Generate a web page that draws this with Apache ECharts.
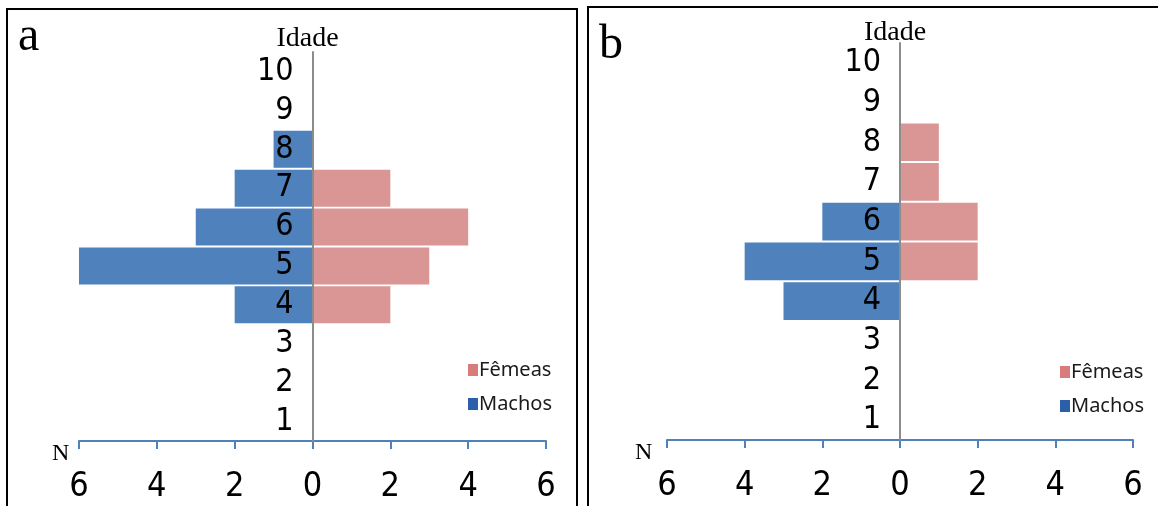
<!DOCTYPE html>
<html>
<head>
<meta charset="utf-8">
<script src="https://cdn.jsdelivr.net/npm/echarts@6/dist/echarts.min.js"></script>
<style>
html,body{margin:0;padding:0;background:#fff;}
#c{width:1158px;height:506px;}
</style>
</head>
<body>
<div id="c"></div>
<script>
// Age classes (bottom to top)
var ages = ['1','2','3','4','5','6','7','8','9','10'];
// Panel a
var machosA = [0,0,0,2,6,3,2,1,0,0];
var femeasA = [0,0,0,2,3,4,2,0,0,0];
// Panel b
var machosB = [0,0,0,3,4,2,0,0,0,0];
var femeasB = [0,0,0,0,2,2,1,1,0,0];
// X axis ticks
var xTicks = {min:-6, max:6, interval:2};

var COL_F = '#d99694', COL_M = '#4f81bd';
var LEG_F = '#d97b7b', LEG_M = '#2c5faa';
var NUMFONT = "'Liberation Sans Narrow','DejaVu Sans Condensed',sans-serif";
var SERIF = "'Liberation Serif','DejaVu Serif',serif";

var W = 1158;
var grids = [
  {left:79, right:612, top:52, bottom:65},
  {left:667, right:25, top:43, bottom:66}
];
var nameGaps = [-1, -4];

var chart = echarts.init(document.getElementById('c'), null, {renderer:'canvas'});

function xAxisCfg(gi){
  return {
    type:'value', gridIndex:gi, min:xTicks.min, max:xTicks.max, interval:xTicks.interval,
    splitLine:{show:false},
    axisLine:{show:true, lineStyle:{color:'#4f81bd', width:2}},
    axisTick:{show:true, length:8, lineStyle:{color:'#4f81bd', width:2}},
    axisLabel:{color:'#000', fontSize:34, fontFamily:NUMFONT, margin:29,
      formatter:function(v){return String(Math.abs(v));}}
  };
}
function yAxisCfg(gi){
  var g = grids[gi];
  var half = (W - g.left - g.right) / 2;
  return {
    type:'category', gridIndex:gi, data:ages, z:10, position:'left', offset:-half,
    axisLine:{show:true, onZero:false, lineStyle:{color:'#8c8c8c', width:2}},
    axisTick:{show:false},
    axisLabel:{color:'#000', fontSize:32, fontFamily:NUMFONT, margin:19, interval:0},
    name:'Idade', nameLocation:'end', nameGap:nameGaps[gi],
    nameTextStyle:{color:'#000', fontSize:28, fontFamily:SERIF, padding:[0,10,0,0]}
  };
}
function neg(a){return a.map(function(v){return -v;});}
function barSeries(name, data, color, gi){
  return {
    type:'bar', name:name, xAxisIndex:gi, yAxisIndex:gi, data:data,
    barGap:'-100%', barCategoryGap:'5%',
    itemStyle:{color:color},
    silent:true, animation:false
  };
}
function legendCfg(left, top){
  return {
    orient:'vertical', left:left, top:top, itemWidth:10, itemHeight:12, itemGap:14,
    icon:'rect', selectedMode:false,
    textStyle:{color:'#1a1a1a', fontSize:20, fontFamily:"'Noto Sans',sans-serif", padding:[0,0,0,-4]},
    data:[{name:'Fêmeas', itemStyle:{color:LEG_F}}, {name:'Machos', itemStyle:{color:LEG_M}}]
  };
}

var option = {
  animation:false,
  backgroundColor:'#fff',
  grid:grids,
  xAxis:[xAxisCfg(0), xAxisCfg(1)],
  yAxis:[yAxisCfg(0), yAxisCfg(1)],
  legend:[legendCfg(463, 355), legendCfg(1055, 357)],
  series:[
    barSeries('Fêmeas', femeasA, COL_F, 0),
    barSeries('Machos', neg(machosA), COL_M, 0),
    barSeries('Fêmeas', femeasB, COL_F, 1),
    barSeries('Machos', neg(machosB), COL_M, 1)
  ],
  graphic:[
    {type:'rect', shape:{x:7, y:9, width:570, height:540}, style:{fill:'none', stroke:'#000', lineWidth:2}, silent:true},
    {type:'rect', shape:{x:588, y:7, width:600, height:540}, style:{fill:'none', stroke:'#000', lineWidth:2}, silent:true},
    {type:'text', x:18, y:37, style:{text:'a', font:'48px '+SERIF, fill:'#000', textAlign:'left', textVerticalAlign:'middle'}},
    {type:'text', x:599, y:45, style:{text:'b', font:'48px '+SERIF, fill:'#000', textAlign:'left', textVerticalAlign:'middle'}},
    {type:'text', x:52, y:454, style:{text:'N', font:'24px '+SERIF, fill:'#000', textAlign:'left', textVerticalAlign:'middle'}},
    {type:'text', x:635, y:453, style:{text:'N', font:'24px '+SERIF, fill:'#000', textAlign:'left', textVerticalAlign:'middle'}}
  ]
};
chart.setOption(option);
</script>
</body>
</html>
